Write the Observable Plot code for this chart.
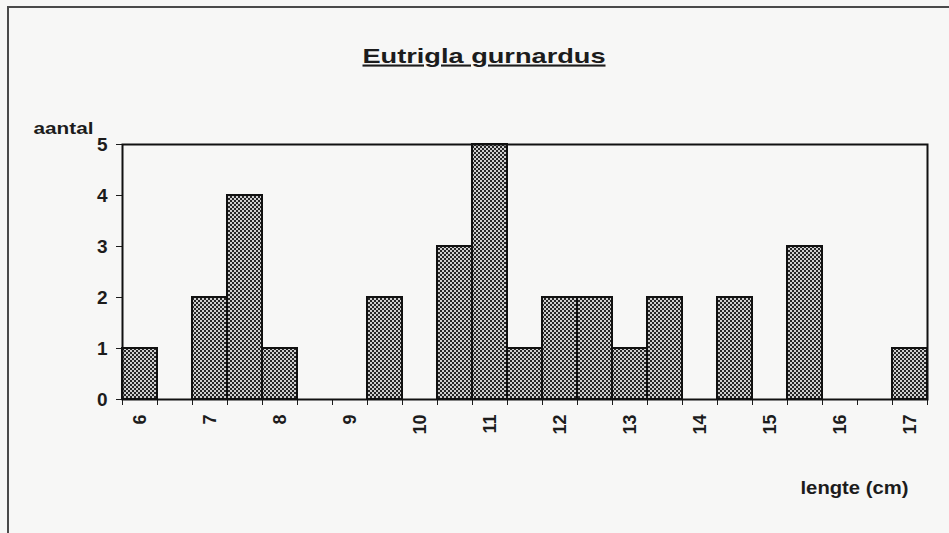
<!DOCTYPE html>
<html>
<head>
<meta charset="utf-8">
<script src="https://cdn.jsdelivr.net/npm/d3@7"></script>
<script src="https://cdn.jsdelivr.net/npm/@observablehq/plot@0.6"></script>
<style>
  html, body { margin: 0; padding: 0; background: #f7f7f6; }
  #wrap { position: relative; width: 949px; height: 533px; overflow: hidden; }
  #border { position: absolute; left: 7px; top: 6px; width: 960px; height: 560px;
            border-top: 2px solid #4a4a4a; border-left: 2px solid #4a4a4a; }
  #chart { position: absolute; left: 0; top: 0; }
</style>
</head>
<body>
<div id="wrap"><div id="border"></div><div id="chart"></div></div>
<script>
// length classes (cm), one bar per half centimetre
const lengths = [6, 6.5, 7, 7.5, 8, 8.5, 9, 9.5, 10, 10.5, 11, 11.5, 12, 12.5, 13, 13.5, 14, 14.5, 15, 15.5, 16, 16.5, 17];
// number of fish in each class
const counts  = [1, 0, 2, 4, 1, 0, 0, 2, 0, 3, 5, 1, 2, 2, 1, 2, 0, 2, 0, 3, 0, 0, 1];
// axis tick labels
const xLabels = [6, 7, 8, 9, 10, 11, 12, 13, 14, 15, 16, 17];
const yTicks  = [0, 1, 2, 3, 4, 5];
const title = "Eutrigla gurnardus";
const yTitle = "aantal";
const xTitle = "lengte (cm)";

const half = 0.25; // half of a class width
const data = lengths.map((len, i) => ({len, count: counts[i]})).filter(d => d.count > 0);
const bounds = lengths.map(v => v - half).concat([lengths[lengths.length - 1] + half]);

const font = "'Liberation Sans', Arial, sans-serif";

const svg = Plot.plot({
  width: 949,
  height: 533,
  marginLeft: 122,
  marginRight: 22,
  marginTop: 144,
  marginBottom: 134,
  style: {fontFamily: font, background: "transparent", color: "#1c1c1c", overflow: "visible"},
  x: {domain: [lengths[0] - half, lengths[lengths.length - 1] + half]},
  y: {domain: [0, 5]},
  marks: [
    Plot.rect(data, {
      x1: d => d.len - half,
      x2: d => d.len + half,
      y1: 0,
      y2: "count",
      fill: "url(#hatch)",
      stroke: "#111",
      strokeWidth: 2
    }),
    Plot.axisY({ticks: yTicks, tickFormat: d3.format("d"), tickSize: 6, tickPadding: 9, fontSize: 19, fontWeight: "bold", label: null}),
    Plot.axisX({ticks: bounds, tickSize: 6, tickFormat: () => "", label: null}),
    Plot.axisX({ticks: xLabels, tickFormat: d3.format("d"), tickSize: 0, tickPadding: 15, tickRotate: -90, fontSize: 18, fontWeight: "bold", label: null}),
    Plot.frame({stroke: "#111", strokeWidth: 2}),
    Plot.text([title], {frameAnchor: "top", dx: -41, dy: -82, lineAnchor: "bottom", fontSize: 21, fontWeight: "bold", fill: "#1c1c1c"}),
    Plot.text([yTitle], {frameAnchor: "top-left", dx: -89, dy: -11, lineAnchor: "bottom", textAnchor: "start", fontSize: 16, fontWeight: "bold", fill: "#1c1c1c"}),
    Plot.text([xTitle], {frameAnchor: "bottom-right", dx: -19, dy: 94, lineAnchor: "bottom", textAnchor: "end", fontSize: 19, fontWeight: "bold", fill: "#1c1c1c"})
  ]
});

// checkered fill pattern for the bars
const ns = "http://www.w3.org/2000/svg";
const defs = document.createElementNS(ns, "defs");
defs.innerHTML = `<pattern id="hatch" patternUnits="userSpaceOnUse" width="4" height="4">
  <rect width="4" height="4" fill="#262626"></rect>
  <rect x="0" y="0" width="2" height="2" fill="#cfcfcf"></rect>
  <rect x="2" y="2" width="2" height="2" fill="#cfcfcf"></rect>
</pattern>`;
svg.insertBefore(defs, svg.firstChild);

// widen the label texts to match the scanned original
svg.querySelectorAll("text").forEach(t => {
  const s = t.textContent;
  if (s === title) {
    t.setAttribute("text-decoration", "underline");
    t.style.textDecoration = "underline";
    t.setAttribute("textLength", 243);
    t.setAttribute("lengthAdjust", "spacingAndGlyphs");
  } else if (s === yTitle) {
    t.setAttribute("textLength", 60);
    t.setAttribute("lengthAdjust", "spacingAndGlyphs");
  } else if (s === xTitle) {
    t.setAttribute("textLength", 108);
    t.setAttribute("lengthAdjust", "spacingAndGlyphs");
  }
});

document.getElementById("chart").appendChild(svg);
</script>
</body>
</html>
